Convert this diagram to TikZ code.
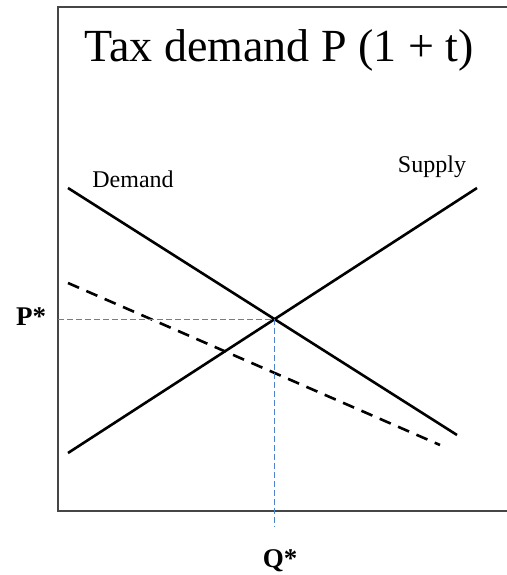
\documentclass[tikz,border=0pt]{standalone}
\usepackage{fontspec}
\setmainfont{Liberation Serif}
\usetikzlibrary{positioning,calc}
\definecolor{frm}{RGB}{70,70,70}
\definecolor{guide}{RGB}{80,130,205}
\tikzset{
  crv/.style={black, line width=2.6pt},
  taxcrv/.style={black, line width=2.6pt, dash pattern=on 12pt off 8pt},
  gline/.style={guide, line width=1.3pt, dash pattern=on 6pt off 3pt},
  lab/.style={font=\fontsize{24}{27}\selectfont, anchor=base},
  eqlab/.style={font=\fontsize{27}{30}\selectfont\bfseries, anchor=base},
}

\begin{document}
\begin{tikzpicture}[x=1pt,y=-1pt]
\useasboundingbox (0,0) rectangle (506,575);
% frame
\draw[frm, line width=1.6pt] (515,7) -- (58,7) -- (58,511) -- (515,511);
\node[font=\fontsize{46}{50}\selectfont, anchor=base] (ttl) at (279,62) {Tax demand P (1 + t)};
% curves
\coordinate (d0) at (68,188);  \coordinate (d1) at (457,435);
\coordinate (s0) at (68,453);  \coordinate (s1) at (477,188);
\coordinate (t0) at (68,283);  \coordinate (t1) at (440,445);
\draw[crv] (d0) -- (d1);
\draw[crv] (s0) -- (s1);
\draw[taxcrv] (t0) -- (t1);
\coordinate (eq) at (intersection of d0--d1 and s0--s1);
% equilibrium guides
\coordinate (py) at (58,0 |- eq);
\coordinate (qx) at (eq |- 0,526);
\draw[gline] (py) -- (eq) -- (qx);
\node[lab] (dem) at (133,187) {Demand};
\node[lab] (sup) at (432,172) {Supply};
\node[eqlab] (pst) at (31,325) {P*};
\node[eqlab] (qst) at (280,567) {Q*};
\end{tikzpicture}
\end{document}
